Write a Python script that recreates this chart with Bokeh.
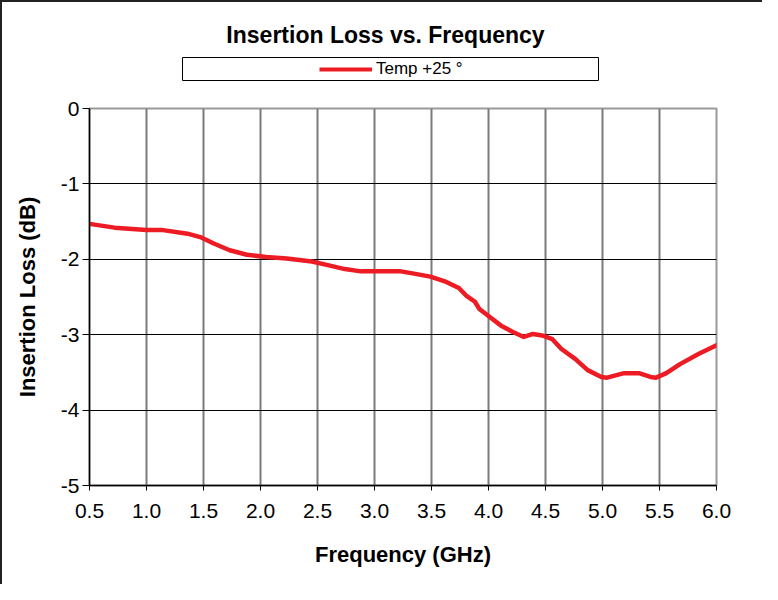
from bokeh.plotting import figure
from bokeh.layouts import column
from bokeh.models import (FixedTicker, Label, Legend, LegendItem, Range1d)
from bokeh.embed import file_html
from bokeh.resources import INLINE

# ---- data ----
freq_ghz = [0.50, 0.72, 1.00, 1.13, 1.36, 1.48, 1.59, 1.73, 1.88, 2.05, 2.23, 2.45,
            2.60, 2.74, 2.88, 3.23, 3.31, 3.49, 3.63, 3.74, 3.81, 3.88, 3.92, 3.98,
            4.11, 4.21, 4.31, 4.39, 4.47, 4.56, 4.64, 4.76, 4.87, 4.99, 5.04, 5.19,
            5.32, 5.42, 5.47, 5.56, 5.68, 5.85, 6.00]
loss_db = [-1.53, -1.58, -1.61, -1.61, -1.66, -1.71, -1.79, -1.88, -1.94, -1.97, -1.99, -2.03,
           -2.08, -2.13, -2.16, -2.16, -2.18, -2.23, -2.30, -2.38, -2.49, -2.56, -2.66, -2.73,
           -2.88, -2.96, -3.03, -2.99, -3.01, -3.06, -3.19, -3.32, -3.47, -3.56, -3.57, -3.51,
           -3.51, -3.56, -3.57, -3.51, -3.39, -3.25, -3.14]

x_ticks = [0.5, 1.0, 1.5, 2.0, 2.5, 3.0, 3.5, 4.0, 4.5, 5.0, 5.5, 6.0]
x_tick_labels = ["0.5", "1.0", "1.5", "2.0", "2.5", "3.0", "3.5", "4.0", "4.5", "5.0", "5.5", "6.0"]
y_ticks = [0, -1, -2, -3, -4, -5]
y_tick_labels = ["0", "-1", "-2", "-3", "-4", "-5"]
y_grid_ticks = [-1, -2, -3, -4]

title_text = "Insertion Loss vs. Frequency"
series_name = "Temp +25 \u00b0"
x_label = "Frequency (GHz)"
y_label = "Insertion Loss (dB)"

FONT = "Liberation Sans"
RED = "#ED1C24"
W = 760
HEADER_H = 90
MAIN_H = 492

# ---------------- header: title + legend ----------------
hdr = figure(width=W, height=HEADER_H,
             x_range=Range1d(0, W), y_range=Range1d(HEADER_H, 0),
             x_axis_type=None, y_axis_type=None,
             output_backend="svg", toolbar_location=None,
             min_border=0, min_border_left=0, min_border_right=0,
             min_border_top=0, min_border_bottom=0)
hdr.frame_align = False
hdr.outline_line_color = None
hdr.background_fill_color = "white"
hdr.border_fill_color = "white"

# legend frame
hdr.quad(left=[180], right=[596], top=[55], bottom=[78],
         fill_color="white", line_color="black", line_width=1)
# off-screen proxy renderer carrying the series style for the legend glyph
proxy = hdr.line(x=[-200, -100], y=[-200, -200], line_color=RED, line_width=4)
legend = Legend(items=[LegendItem(label=series_name, renderers=[proxy])],
                location=(317, 13), orientation="horizontal",
                padding=0, spacing=0, margin=0,
                glyph_width=53, glyph_height=20, label_height=20,
                label_standoff=4,
                label_text_font=FONT, label_text_font_size="17px",
                label_text_color="black",
                background_fill_alpha=0, border_line_alpha=0)
hdr.add_layout(legend)

title = Label(x=383, y=32, text=title_text, text_align="center", text_baseline="middle",
              text_font=FONT, text_font_style="bold", text_font_size="23px",
              text_color="black")
hdr.add_layout(title)

# ---------------- main plot ----------------
p = figure(width=W, height=MAIN_H,
           x_range=Range1d(0.5, 6.0), y_range=Range1d(-5, 0),
           output_backend="svg", toolbar_location=None,
           min_border_left=87, min_border_right=46,
           min_border_top=16, min_border_bottom=99)
p.frame_align = False
p.background_fill_color = "white"
p.border_fill_color = "white"
p.outline_line_color = "#9a9a9a"
p.outline_line_width = 2

p.xaxis.ticker = FixedTicker(ticks=x_ticks)
p.xaxis.major_label_overrides = {t: l for t, l in zip(x_ticks, x_tick_labels)}
p.yaxis.ticker = FixedTicker(ticks=y_ticks)
p.yaxis.major_label_overrides = {t: l for t, l in zip(y_ticks, y_tick_labels)}
for ax in (p.xaxis[0], p.yaxis[0]):
    ax.axis_line_color = "black"
    ax.axis_line_width = 1.5
    ax.major_tick_line_color = "black"
    ax.major_tick_line_width = 1
    ax.major_tick_in = 0
    ax.minor_tick_line_color = None
    ax.major_label_text_font = FONT
    ax.major_label_text_font_size = "21px"
    ax.major_label_text_color = "black"
    ax.axis_label_text_font = FONT
    ax.axis_label_text_font_style = "bold"
    ax.axis_label_text_font_size = "22px"
    ax.axis_label_text_color = "black"
p.xaxis.major_tick_out = 5
p.yaxis.major_tick_out = 7
p.xaxis.major_label_standoff = 13
p.yaxis.major_label_standoff = 3
p.xaxis.axis_label = x_label
p.yaxis.axis_label = y_label
p.xaxis.axis_label_standoff = 21
p.yaxis.axis_label_standoff = 18

p.xgrid.ticker = FixedTicker(ticks=x_ticks)
p.xgrid.grid_line_color = "#7a7a7a"
p.xgrid.grid_line_width = 2
p.ygrid.ticker = FixedTicker(ticks=y_grid_ticks)
p.ygrid.grid_line_color = "black"
p.ygrid.grid_line_width = 1

p.line(freq_ghz, loss_db, line_color=RED, line_width=4.5, line_join="round", line_cap="round")

layout = column(hdr, p, spacing=0,
                styles={"border-left": "2px solid #222222", "border-top": "2px solid #222222"})

open("out.html", "w").write(file_html(layout, INLINE))
